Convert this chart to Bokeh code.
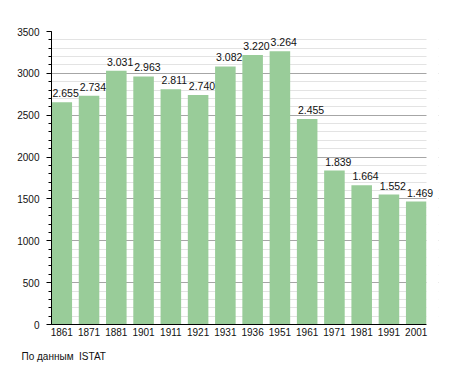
from bokeh.plotting import figure
from bokeh.models import (ColumnDataSource, SingleIntervalTicker, FixedTicker, Title, Range1d,
                          LabelSet, BoxAnnotation)
from bokeh.embed import file_html
from bokeh.resources import INLINE
from bokeh.core.properties import value

years = ["1861", "1871", "1881", "1901", "1911", "1921", "1931", "1936", "1951", "1961", "1971", "1981", "1991", "2001"]
population = [2655, 2734, 3031, 2963, 2811, 2740, 3082, 3220, 3264, 2455, 1839, 1664, 1552, 1469]
labels = [f"{v:,}".replace(",", ".") for v in population]

BAR_W = 0.754
idx = list(range(len(years)))
src = ColumnDataSource(dict(x=idx, xl=[i - BAR_W / 2 for i in idx], y=population, lab=labels))

FONT = "Liberation Sans"
FS = "10px"

PLOT_PX = 375          # width of the gridded area
EXTRA_PX = 12          # room for the last value label
span = len(years) - 1 + BAR_W
x_end = span - BAR_W / 2
extra = EXTRA_PX * span / PLOT_PX

p = figure(x_range=Range1d(-BAR_W / 2, x_end + extra), y_range=Range1d(0, 3500),
           frame_width=PLOT_PX + EXTRA_PX, frame_height=293, output_backend="svg", toolbar_location=None,
           min_border_left=51, min_border_right=10, min_border_top=31, min_border_bottom=40)
p.outline_line_color = None
p.background_fill_color = "white"

p.vbar(x="x", top="y", width=BAR_W, source=src, fill_color="#99cc99", line_color=None)
p.add_layout(BoxAnnotation(left=x_end, fill_color="white", fill_alpha=1.0, line_color=None))
p.add_layout(LabelSet(x="xl", y="y", text="lab", source=src, text_align="left", text_baseline="alphabetic",
                      x_offset=1, y_offset=5, text_font=value(FONT), text_font_size="10.5px",
                      text_color="#111111"))

p.yaxis.ticker = SingleIntervalTicker(interval=500, num_minor_ticks=5)
p.xaxis.ticker = FixedTicker(ticks=idx)
p.xaxis.major_label_overrides = {i: y for i, y in zip(idx, years)}
p.xaxis.bounds = (-BAR_W / 2, x_end)
p.ygrid.grid_line_color = "#a6a6a6"
p.ygrid.minor_grid_line_color = "#e3e3e3"
p.xgrid.grid_line_color = None

for ax in (p.xaxis, p.yaxis):
    ax.axis_line_color = "black"
    ax.major_label_text_font = FONT
    ax.major_label_text_font_size = FS
    ax.major_label_text_color = "#111111"
p.yaxis.major_tick_out = 5
p.yaxis.major_tick_in = 0
p.yaxis.minor_tick_out = 3
p.yaxis.minor_tick_in = 0
p.yaxis.major_tick_line_color = "black"
p.yaxis.minor_tick_line_color = "black"
p.yaxis.major_label_standoff = 7
p.xaxis.major_tick_out = 0
p.xaxis.major_tick_in = 0
p.xaxis.minor_tick_out = 0
p.xaxis.minor_tick_in = 0
p.xaxis.major_tick_line_color = None
p.xaxis.minor_tick_line_color = None
p.xaxis.major_label_standoff = 3

p.add_layout(Title(text="По данным\u00a0 ISTAT", align="left", text_font=FONT, text_font_size=FS,
                   text_font_style="normal", text_color="#111111", offset=-30, standoff=21), "below")

open("out.html", "w").write(file_html(p, INLINE))
